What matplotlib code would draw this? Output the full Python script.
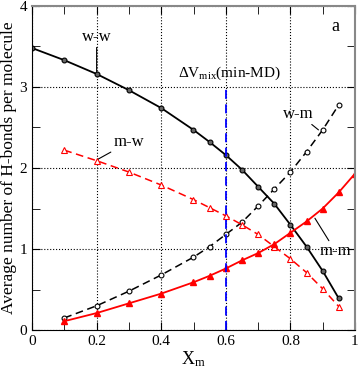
import matplotlib
matplotlib.use("Agg")
import matplotlib.pyplot as plt
from matplotlib.ticker import MultipleLocator

plt.rcParams['font.family'] = ['Liberation Serif', 'DejaVu Serif']
plt.rcParams['mathtext.fontset'] = 'custom'
plt.rcParams['mathtext.rm'] = 'Liberation Serif'
plt.rcParams['mathtext.it'] = 'Liberation Serif'

# datos
x_ww = [0, 0.1, 0.2, 0.3, 0.4, 0.5, 0.55, 0.6, 0.65, 0.7, 0.75, 0.8, 0.85, 0.9, 0.95]
y_ww = [3.48, 3.33, 3.16, 2.96, 2.74, 2.47, 2.32, 2.16, 1.98, 1.77, 1.56, 1.30, 1.03, 0.73, 0.39]

x_wm = [0.1, 0.2, 0.3, 0.4, 0.5, 0.55, 0.6, 0.65, 0.7, 0.75, 0.8, 0.85, 0.9, 0.95]
y_wm = [0.15, 0.30, 0.48, 0.68, 0.90, 1.03, 1.18, 1.33, 1.53, 1.74, 1.95, 2.20, 2.47, 2.78]

x_mw = [0.1, 0.2, 0.3, 0.4, 0.5, 0.55, 0.6, 0.65, 0.7, 0.75, 0.8, 0.85, 0.9, 0.95]
y_mw = [2.22, 2.09, 1.95, 1.79, 1.61, 1.51, 1.41, 1.30, 1.18, 1.03, 0.88, 0.71, 0.51, 0.29]

x_mm = [0.1, 0.2, 0.3, 0.4, 0.5, 0.55, 0.6, 0.65, 0.7, 0.75, 0.8, 0.85, 0.9, 0.95, 1.0]
y_mm = [0.11, 0.21, 0.33, 0.45, 0.59, 0.67, 0.76, 0.86, 0.95, 1.06, 1.20, 1.34, 1.50, 1.70, 1.93]

x_vmix = 0.6  # minimo de DeltaV_mix


def main():
    fig = plt.figure(figsize=(3.6, 3.68), dpi=100)
    ax = fig.add_axes([0.089, 0.103, 0.897, 0.881])

    ax.plot(x_ww, y_ww, '-', color='black', lw=1.3, marker='o', ms=3.5,
            mfc='#666666', mec='black', mew=0.8)
    ax.plot(x_wm, y_wm, '--', color='black', lw=1.1, marker='o', ms=3.5,
            mfc='white', mec='black', mew=0.8, dashes=(5, 3))
    ax.plot(x_mw, y_mw, '--', color='red', lw=1.1, marker='^', ms=4.5,
            mfc='white', mec='red', mew=0.8, dashes=(5, 3))
    ax.plot(x_mm, y_mm, '-', color='red', lw=1.3, marker='^', ms=4.5,
            mfc='red', mec='red')
    ax.plot([x_vmix, x_vmix], [0, 3.0], '--', color='blue', lw=1.3, dashes=(5, 3))

    ax.set_xlim(0, 1)
    ax.set_ylim(0, 4)
    ax.xaxis.set_minor_locator(MultipleLocator(0.1))
    ax.yaxis.set_major_locator(MultipleLocator(1))
    ax.yaxis.set_minor_locator(MultipleLocator(0.5))
    ax.set_xticks([0, 0.2, 0.4, 0.6, 0.8, 1])
    ax.set_xticklabels(['0', '0.2', '0.4', '0.6', '0.8', '1'])
    ax.tick_params(which='both', direction='in', top=True, right=True, labelsize=11)
    ax.tick_params(which='major', length=6)
    ax.tick_params(which='minor', length=6)
    ax.grid(True, which='major', linestyle=':', color='black', lw=0.8)
    ax.set_axisbelow(True)
    for s in ['top', 'right']:
        ax.spines[s].set_color('#888888')
        ax.spines[s].set_linewidth(1.5)

    ax.set_xlabel(r'X$_{\rm m}$', fontsize=13, labelpad=1)
    ax.set_ylabel('Average number of H-bonds per molecule', fontsize=12.5, labelpad=2)

    ap = dict(arrowstyle='-', color='black', lw=0.8, shrinkA=0, shrinkB=0)
    ax.annotate('w-w', xy=(0.2, 3.19), xytext=(0.2, 3.62), ha='center', va='center',
                fontsize=12, arrowprops=ap)
    ax.annotate('m-w', xy=(0.205, 2.11), xytext=(0.30, 2.32), ha='center', va='center',
                fontsize=12, arrowprops=ap)
    ax.annotate('w-m', xy=(0.887, 2.47), xytext=(0.825, 2.67), ha='center', va='center',
                fontsize=12, arrowprops=ap)
    ax.annotate('m-m', xy=(0.876, 1.38), xytext=(0.94, 0.97), ha='center', va='center',
                fontsize=12, arrowprops=ap)
    ax.text(0.61, 3.17, r'$\Delta$V$_{\rm mix}$(min-MD)', ha='center', va='center', fontsize=11)
    ax.text(0.94, 3.74, 'a', ha='center', va='center', fontsize=13)

    fig.savefig('out.png', dpi=100)


main()
